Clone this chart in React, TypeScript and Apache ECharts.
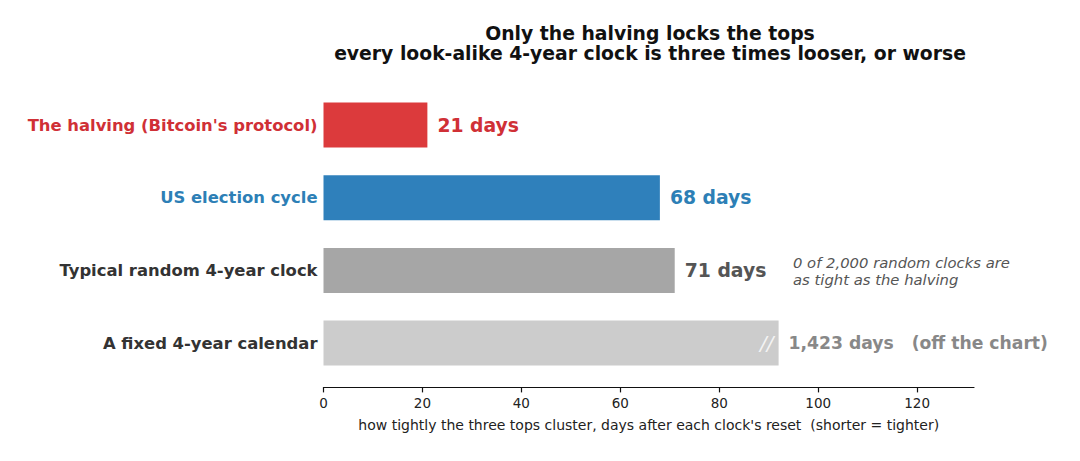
import React, { useEffect, useRef } from "react";
import * as echarts from "echarts";

const categories = [
  "The halving (Bitcoin's protocol)",
  "US election cycle",
  "Typical random 4-year clock",
  "A fixed 4-year calendar",
];
const trueDays = [21, 68, 71, 1423];
const displayValues = [21, 68, 71, 92];
const valueLabels = ["21 days", "68 days", "71 days", "1,423 days   (off the chart)"];
const barColors = ["#dc3a3c", "#2f80bb", "#a6a6a6", "#cccccc"];
const textColors = ["#d03036", "#2d7fb6", "#333333", "#333333"];
const valueColors = ["#d03036", "#2d7fb6", "#555555", "#888888"];
const valueSizes = [18.8, 18.8, 18.8, 17.2];
const xTicks = [0, 20, 40, 60, 80, 100, 120];
const xMax = 131.5;

const FONT = "DejaVu Sans";

export default function App() {
  const ref = useRef<HTMLDivElement>(null);
  useEffect(() => {
    if (!ref.current) return;
    const chart = echarts.init(ref.current, null, { renderer: "svg" });
    const cats = [...categories].reverse();
    const idx = (i: number) => categories.length - 1 - i;
    const barData = cats.map((_, j) => {
      const i = idx(j);
      return {
        value: displayValues[i],
        itemStyle: { color: barColors[i] },
        label: {
          show: true,
          position: "right",
          distance: 10,
          formatter: valueLabels[i],
          color: valueColors[i],
          fontSize: valueSizes[i],
          fontWeight: "bold",
          fontFamily: FONT,
        },
      };
    });
    chart.setOption({
      animation: false,
      title: {
        text: "Only the halving locks the tops\nevery look-alike 4-year clock is three times looser, or worse",
        left: 645,
        textAlign: "center",
        top: 18,
        textStyle: {
          fontFamily: FONT,
          fontSize: 18.8,
          fontWeight: "bold",
          color: "#111",
          lineHeight: 20.5,
        },
      },
      grid: { left: 323.5, right: 106, top: 88.7, height: 290.7 },
      xAxis: {
        type: "value",
        min: 0,
        max: xMax,
        interval: 20,
        offset: 8,
        name: "how tightly the three tops cluster, days after each clock's reset  (shorter = tighter)",
        nameLocation: "middle",
        nameGap: 31,
        nameTextStyle: { fontFamily: FONT, fontSize: 14, color: "#222" },
        axisLine: { show: true, lineStyle: { color: "#111", width: 1.2 } },
        axisTick: { show: true, length: 5, lineStyle: { color: "#111", width: 1.2 } },
        axisLabel: {
          fontFamily: FONT,
          fontSize: 13.5,
          color: "#222",
          margin: 9,
          showMaxLabel: false,
          formatter: (v: number) => (xTicks.includes(v) ? String(v) : ""),
        },
        splitLine: { show: false },
      },
      yAxis: {
        type: "category",
        data: cats,
        axisLine: { show: false },
        axisTick: { show: false },
        axisLabel: {
          margin: 6,
          fontFamily: FONT,
          fontSize: 16.4,
          fontWeight: "bold",
          color: (_v: string, j: number) => textColors[idx(j)],
          formatter: (v: string) => v,
        },
      },
      series: [
        {
          type: "bar",
          data: barData,
          barWidth: 45,
        },
        {
          type: "scatter",
          symbolSize: 0,
          silent: true,
          data: [[displayValues[3], cats[0]]],
          label: {
            show: true,
            position: "left",
            distance: 5,
            formatter: "//",
            color: "#ffffff",
            fontSize: 20,
            fontStyle: "italic",
            fontFamily: FONT,
          },
        },
      ],
      graphic: [
        {
          type: "text",
          left: 793,
          top: 253.5,
          style: {
            text: "0 of 2,000 random clocks are\nas tight as the halving",
            fontFamily: FONT,
            fontSize: 14.8,
            fontStyle: "italic",
            fill: "#555",
            lineHeight: 17,
          },
        },
      ],
    });
    return () => chart.dispose();
  }, []);
  return <div ref={ref} style={{ width: 1080, height: 461, margin: -8 }} />;
}
